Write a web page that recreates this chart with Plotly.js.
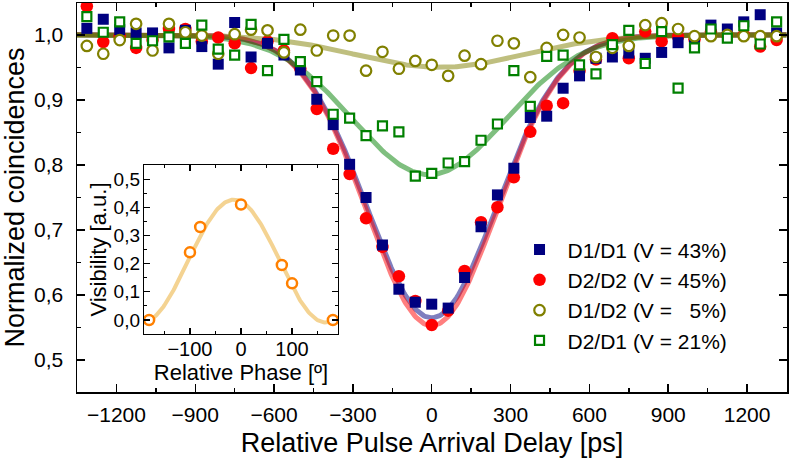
<!DOCTYPE html>
<html>
<head>
<meta charset="utf-8">
<script src="https://cdn.plot.ly/plotly-3.0.1.min.js"></script>
<style>body{margin:0;background:#fff}</style>
</head>
<body>
<div id="grafica" style="width:789px;height:460px"></div>
<script>
// delay grid of the measured points [ps]
const delay = [-1312.5, -1250, -1187.5, -1125, -1062.5, -1000, -937.5, -875, -812.5, -750, -687.5,
    -625, -562.5, -500, -437.5, -375, -312.5, -250, -187.5, -125, -62.5, 0, 62.5, 125, 187.5, 250,
    312.5, 375, 437.5, 500, 562.5, 625, 687.5, 750, 812.5, 875, 937.5, 1000, 1062.5, 1125, 1187.5, 1250, 1312.5];

const d1d1 = [1.010, 1.024, 1.008, 1.003, 1.003, 0.980, 1.007, 0.982, 0.955, 1.019, 0.966,
    0.987, 0.969, 0.946, 0.901, 0.862, 0.801, 0.750, 0.677, 0.609, 0.589, 0.586, 0.580, 0.627,
    0.705, 0.754, 0.795, 0.873, 0.875, 0.918, 0.937, 0.964, 0.966, 0.972, 0.964, 0.973, 0.988,
    0.992, 1.015, 1.009, 1.020, 1.031, 1.003];
const d2d2 = [1.044, 0.989, 0.998, 0.980, 0.992, 1.009, 1.009, 0.990, 0.996, 0.987, 0.949,
    0.990, 0.976, 0.948, 0.886, 0.825, 0.786, 0.718, 0.674, 0.629, 0.591, 0.554, 0.576, 0.637,
    0.712, 0.735, 0.781, 0.851, 0.891, 0.895, 0.945, 0.962, 0.995, 0.964, 1.005, 0.990, 0.997,
    0.993, 1.005, 1.000, 1.000, 0.982, 0.992];
const d1d2 = [0.983, 0.971, 0.992, 1.017, 0.976, 1.017, 1.004, 0.999, 0.971, 1.001, 1.008,
    1.007, 0.973, 1.008, 0.976, 0.999, 0.999, 0.945, 0.974, 0.948, 0.960, 0.954, 0.937, 0.968,
    0.955, 0.991, 0.987, 0.935, 0.980, 1.000, 0.996, 0.966, 0.980, 0.983, 1.015, 1.018, 1.009,
    0.998, 0.998, 1.000, 0.998, 0.998, 0.998];
const d2d1 = [1.028, 1.004, 1.020, 0.987, 0.991, 0.997, 0.987, 1.015, 0.978, 0.969, 1.016,
    0.945, 0.993, 0.959, 0.928, 0.878, 0.872, 0.845, 0.860, 0.851, 0.783, 0.787, 0.803, 0.805,
    0.838, 0.863, 0.945, 0.890, 0.967, 0.969, 0.954, 0.940, 0.985, 1.007, 0.956, 1.005, 0.918,
    0.980, 1.009, 0.995, 1.014, 0.986, 1.020];

const seriesNames = ['D1/D1 (V = 43%)', 'D2/D2 (V = 45%)', 'D1/D2 (V =\u00a0\u00a0\u00a05%)', 'D2/D1 (V = 21%)'];

// gaussian fits: [centre ps, depth, sigma ps]
const fitD1D1 = [0, 0.435, 247];
const fitD2D2 = [0, 0.447, 247];
const fitD1D2 = [30, 0.05, 320];
const fitD2D1 = [-10, 0.215, 290];

// inset: visibility vs relative phase
const phase = [-180, -100, -80, 0, 80, 100, 180];
const visibility = [0.0, 0.24, 0.33, 0.41, 0.195, 0.13, 0.0];
// cosine fit: [offset, amplitude, phase0]
const fitVis = [0.209, 0.218, -14];

const fuente = 'Liberation Sans, Arial, sans-serif';

function curvaFit(p) {
    const xs = [], ys = [];
    for (let x = -1350; x <= 1350; x += 5) {
        xs.push(x);
        ys.push(1 - p[1] * Math.exp(-((x - p[0]) ** 2) / (2 * p[2] ** 2)));
    }
    return { x: xs, y: ys };
}

function lineaFit(p, color) {
    const c = curvaFit(p);
    return { x: c.x, y: c.y, type: 'scatter', mode: 'lines', showlegend: false, hoverinfo: 'skip',
        line: { color: color, width: 5 } };
}

const fitInsetX = [], fitInsetY = [];
for (let f = -180; f <= 180; f += 2) {
    fitInsetX.push(f);
    fitInsetY.push(fitVis[0] + fitVis[1] * Math.cos((f - fitVis[2]) * Math.PI / 180));
}

const traces = [
    lineaFit(fitD1D1, 'rgba(0,0,128,0.5)'),
    lineaFit(fitD2D2, 'rgba(255,0,0,0.5)'),
    lineaFit(fitD2D1, 'rgba(0,128,0,0.5)'),
    lineaFit(fitD1D2, 'rgba(128,128,0,0.5)'),
    { x: delay, y: d2d2, name: seriesNames[1], legendrank: 2, type: 'scatter', mode: 'markers',
        marker: { symbol: 'circle', size: 12.5, color: '#ff0000', line: { width: 0 } } },
    { x: delay, y: d1d1, name: seriesNames[0], legendrank: 1, type: 'scatter', mode: 'markers',
        marker: { symbol: 'square', size: 11, color: '#000080', line: { width: 0 } } },
    { x: delay, y: d1d2, name: seriesNames[2], legendrank: 3, type: 'scatter', mode: 'markers',
        marker: { symbol: 'circle', size: 10.5, color: '#ffffff', line: { width: 2.2, color: '#808000' } } },
    { x: delay, y: d2d1, name: seriesNames[3], legendrank: 4, type: 'scatter', mode: 'markers',
        marker: { symbol: 'square', size: 9, color: '#ffffff', line: { width: 2.2, color: '#008000' } } },
    // inset
    { x: fitInsetX, y: fitInsetY, xaxis: 'x2', yaxis: 'y2', type: 'scatter', mode: 'lines',
        showlegend: false, line: { color: 'rgba(240,196,110,0.75)', width: 4 } },
    { x: phase, y: visibility, xaxis: 'x2', yaxis: 'y2', type: 'scatter', mode: 'markers',
        showlegend: false, marker: { symbol: 'circle', size: 10, color: '#ffffff', line: { width: 2.5, color: '#ff8000' } } }
];

const ejeComun = {
    showgrid: false, zeroline: false, showline: true, linecolor: '#000', linewidth: 1.5,
    mirror: 'ticks', ticks: 'inside', ticklen: 8, tickwidth: 1.5, tickcolor: '#000'
};

const layout = {
    width: 789, height: 460,
    margin: { l: 77, r: 2, t: 3, b: 68 },
    separators: ', ',
    paper_bgcolor: '#fff', plot_bgcolor: '#fff',
    font: { family: fuente, color: '#000' },
    showlegend: true,
    legend: { x: 0.612, y: 0.418, xanchor: 'left', yanchor: 'top', bgcolor: 'rgba(0,0,0,0)',
        itemwidth: 46, font: { size: 21, family: fuente }, traceorder: 'normal' },
    xaxis: Object.assign({}, ejeComun, {
        range: [-1350, 1352], tick0: 0, dtick: 300,
        minor: { ticks: 'inside', dtick: 150, ticklen: 4, tickwidth: 1.5, tickcolor: '#000' },
        tickfont: { size: 21 }, ticklabelstandoff: 3,
        title: { text: 'Relative Pulse Arrival Delay [ps]', font: { size: 27 }, standoff: 8 }
    }),
    yaxis: Object.assign({}, ejeComun, {
        range: [0.451, 1.049], tick0: 0, dtick: 0.1, tickformat: '.1f',
        minor: { ticks: 'inside', dtick: 0.05, ticklen: 4, tickwidth: 1.5, tickcolor: '#000' },
        tickfont: { size: 21 }, ticklabelstandoff: 8,
        title: { text: 'Normalized coincidences', font: { size: 27 }, standoff: 4 }
    }),
    xaxis2: Object.assign({}, ejeComun, {
        domain: [0.0944, 0.3676], anchor: 'y2', range: [-190, 190], tick0: 0, dtick: 100,
        ticklen: 6, linewidth: 1.2, tickwidth: 1.2,
        minor: { ticks: 'inside', dtick: 50, ticklen: 3, tickwidth: 1.2, tickcolor: '#000' },
        tickfont: { size: 20 }, ticklabelstandoff: -3,
        title: { text: 'Relative Phase [º]', font: { size: 22 }, standoff: 0 }
    }),
    yaxis2: Object.assign({}, ejeComun, {
        domain: [0.149, 0.5835], anchor: 'x2', range: [-0.05, 0.55], tick0: 0, dtick: 0.1,
        tickformat: '.1f', ticklen: 6, linewidth: 1.2, tickwidth: 1.2,
        minor: { ticks: 'inside', dtick: 0.05, ticklen: 3, tickwidth: 1.2, tickcolor: '#000' },
        tickfont: { size: 19 }, ticklabelstandoff: -1,
        title: { text: 'Visibility [a.u.]', font: { size: 22 }, standoff: 0 }
    })
};

Plotly.newPlot('grafica', traces, layout, { displayModeBar: false, staticPlot: true });
</script>
</body>
</html>
